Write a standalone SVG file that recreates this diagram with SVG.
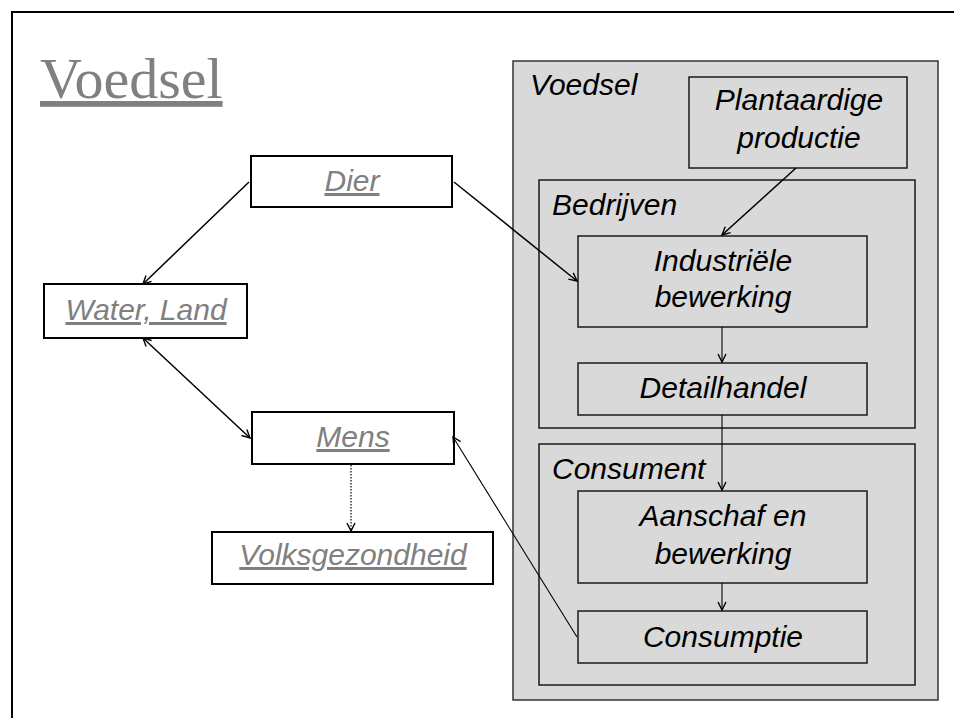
<svg xmlns="http://www.w3.org/2000/svg" width="954" height="718" viewBox="0 0 954 718">
  <style>
    .frame { fill: none; stroke: #000; stroke-width: 2; }
    .lbox { fill: #fff; stroke: #000; stroke-width: 2; }
    .panel { fill: #d9d9d9; stroke: #333; stroke-width: 1.5; }
    .rbox { fill: #d9d9d9; stroke: #1a1a1a; stroke-width: 1.5; }
    .title { font-family: 'Liberation Serif', 'DejaVu Serif', serif; font-size: 58px; fill: #808080; text-decoration: underline; }
    .link { font-family: 'Liberation Sans', Roboto, sans-serif; font-style: italic; font-size: 30px; fill: #808080; text-decoration: underline; }
    .lbl { font-family: 'Liberation Sans', Roboto, sans-serif; font-style: italic; font-size: 30px; fill: #000; }
    .c { text-anchor: middle; }
    .edge { fill: none; stroke: #000; stroke-width: 1.5; }
    .thin { stroke-width: 1.1; }
    .dot { stroke-dasharray: 1.5 1.5; stroke-width: 1.2; }
  </style>
  <defs>
    <marker id="arrow" viewBox="0 0 10 10" refX="9" refY="5" markerWidth="10" markerHeight="10" markerUnits="userSpaceOnUse" orient="auto-start-reverse">
      <path d="M1,1 L9,5 L1,9" fill="none" stroke="#000" stroke-width="1.4"/>
    </marker>
  </defs>

  <!-- slide frame -->
  <path class="frame" d="M12,718 L12,12 L954,12"/>

  <!-- title -->
  <text class="title" x="40" y="98">Voedsel</text>

  <!-- food chain panel -->
  <g id="voedsel-panel">
    <rect class="panel" x="513" y="61" width="425" height="639"/>
    <text class="lbl" x="530" y="95">Voedsel</text>
  </g>
  <g id="bedrijven">
    <rect class="rbox" x="539" y="180" width="376" height="248"/>
    <text class="lbl" x="552" y="215">Bedrijven</text>
  </g>
  <g id="consument">
    <rect class="rbox" x="539" y="444" width="376" height="241"/>
    <text class="lbl" x="552" y="479">Consument</text>
  </g>
  <g id="plantaardige-productie">
    <rect class="rbox" x="689" y="77" width="218" height="91"/>
    <text class="lbl c" x="799" y="110">Plantaardige</text>
    <text class="lbl c" x="799" y="148">productie</text>
  </g>
  <g id="industriele-bewerking">
    <rect class="rbox" x="578" y="236" width="289" height="91"/>
    <text class="lbl c" x="723" y="271">Industriële</text>
    <text class="lbl c" x="723" y="307">bewerking</text>
  </g>
  <g id="detailhandel">
    <rect class="rbox" x="578" y="363" width="289" height="52"/>
    <text class="lbl c" x="723" y="398">Detailhandel</text>
  </g>
  <g id="aanschaf-bewerking">
    <rect class="rbox" x="578" y="491" width="289" height="92"/>
    <text class="lbl c" x="723" y="526">Aanschaf en</text>
    <text class="lbl c" x="723" y="564">bewerking</text>
  </g>
  <g id="consumptie">
    <rect class="rbox" x="578" y="611" width="289" height="52"/>
    <text class="lbl c" x="723" y="647">Consumptie</text>
  </g>

  <!-- left-hand nodes -->
  <g id="dier">
    <rect class="lbox" x="251" y="156" width="201" height="51"/>
    <text class="link c" x="352" y="191">Dier</text>
  </g>
  <g id="water-land">
    <rect class="lbox" x="44" y="284" width="203" height="54"/>
    <text class="link c" x="146" y="320">Water, Land</text>
  </g>
  <g id="mens">
    <rect class="lbox" x="252" y="412" width="202" height="52"/>
    <text class="link c" x="353" y="447">Mens</text>
  </g>
  <g id="volksgezondheid">
    <rect class="lbox" x="212" y="532" width="281" height="52"/>
    <text class="link c" x="353" y="565">Volksgezondheid</text>
  </g>

  <!-- connectors -->
  <g id="connectors">
    <line class="edge" x1="249" y1="182" x2="143" y2="284" marker-end="url(#arrow)"/>
    <line class="edge" x1="143" y1="338" x2="250" y2="438" marker-start="url(#arrow)" marker-end="url(#arrow)"/>
    <line class="edge" x1="454" y1="182" x2="577" y2="281" marker-end="url(#arrow)"/>
    <line class="edge" x1="796" y1="168" x2="722" y2="235" marker-end="url(#arrow)"/>
    <line class="edge thin" x1="722" y1="327" x2="722" y2="362" marker-end="url(#arrow)"/>
    <line class="edge thin" x1="722" y1="415" x2="722" y2="490" marker-end="url(#arrow)"/>
    <line class="edge thin" x1="722" y1="583" x2="722" y2="610" marker-end="url(#arrow)"/>
    <line class="edge thin" x1="577" y1="637" x2="453" y2="437" marker-end="url(#arrow)"/>
    <line class="edge dot" x1="351" y1="465" x2="351" y2="531" marker-end="url(#arrow)"/>
  </g>
</svg>
